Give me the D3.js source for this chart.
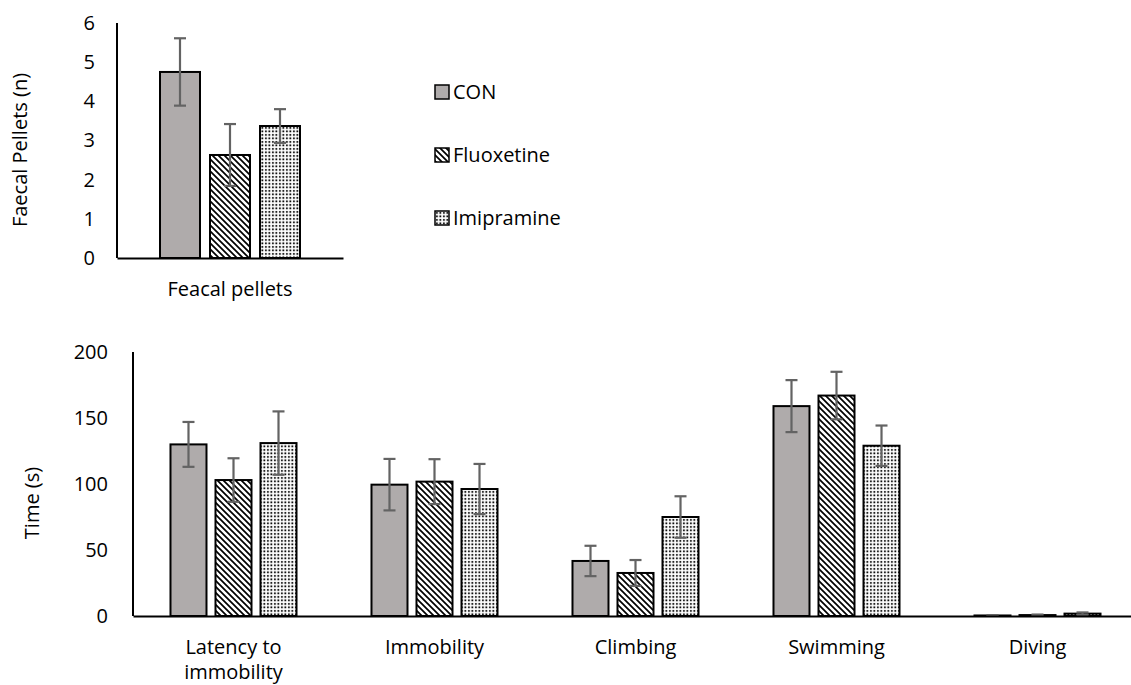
<!DOCTYPE html>
<html>
<head>
<meta charset="utf-8">
<script src="https://cdn.jsdelivr.net/npm/d3@7"></script>
<style>
  body { margin: 0; background: #fff; }
  svg { display: block; font-family: "Open Sans", sans-serif; }
  .axis path { stroke: #000; stroke-width: 2; }
  .axis text { fill: #000; font-size: 20px; font-family: "Open Sans", sans-serif; }
</style>
</head>
<body>
<svg id="chart" width="1131" height="685"></svg>
<script>
// series names
const groups = ["CON", "Fluoxetine", "Imipramine"];

// top chart: faecal pellets
const pelletCats = ["Feacal pellets"];
const pelletMeans = [[4.75, 2.63, 3.37]];
const pelletErrs = [[0.86, 0.79, 0.43]];
const pelletTicks = [0, 1, 2, 3, 4, 5, 6];

// bottom chart: forced swim behaviours
const behaviourCats = ["Latency to immobility", "Immobility", "Climbing", "Swimming", "Diving"];
const timeMeans = [
  [130, 103, 131],
  [99.5, 101.8, 96.2],
  [41.7, 32.6, 75],
  [159, 167, 129],
  [0.4, 0.7, 1.8]
];
const timeErrs = [
  [17, 16.5, 24],
  [19.5, 17, 19],
  [11.5, 9.8, 15.7],
  [19.7, 18, 15.3],
  [0.3, 0.4, 0.9]
];
const timeTicks = [0, 50, 100, 150, 200];

const svg = d3.select("#chart");
const defs = svg.append("defs");

// diagonal hatch for Fluoxetine
const hatch = defs.append("pattern")
    .attr("id", "hatch")
    .attr("patternUnits", "userSpaceOnUse")
    .attr("width", 6).attr("height", 6);
hatch.append("rect").attr("width", 6).attr("height", 6).attr("fill", "#fff");
hatch.append("path")
    .attr("d", "M-1,-1 L7,7 M-4,2 L2,8 M4,-2 L8,2")
    .attr("stroke", "#000").attr("stroke-width", 1.7);

// small dots for Imipramine
const dots = defs.append("pattern")
    .attr("id", "dots")
    .attr("patternUnits", "userSpaceOnUse")
    .attr("width", 3.5).attr("height", 3.5);
dots.append("rect").attr("width", 3.5).attr("height", 3.5).attr("fill", "#fff");
dots.append("rect").attr("x", 1).attr("y", 1).attr("width", 1.8).attr("height", 1.8).attr("fill", "#000");

const fills = d3.scaleOrdinal()
    .domain(groups)
    .range(["#afabab", "url(#hatch)", "url(#dots)"]);

function drawBars(cfg) {
    const x0 = d3.scaleBand()
        .domain(cfg.cats)
        .range(cfg.xRange)
        .padding(0);
    const x1 = d3.scaleBand()
        .domain(groups)
        .range([0, x0.bandwidth()])
        .paddingInner(0.2)
        .paddingOuter(cfg.outer);
    const y = d3.scaleLinear()
        .domain(cfg.yDomain)
        .range(cfg.yRange);

    const g = svg.append("g");

    const catG = g.selectAll(".cat")
        .data(cfg.cats)
        .enter().append("g")
        .attr("transform", d => `translate(${x0(d)},0)`);

    const rows = (d, i) => groups.map((s, j) => ({ s, v: cfg.means[i][j], e: cfg.errs[i][j] }));

    // bars
    catG.selectAll("rect")
        .data(rows)
        .enter().append("rect")
        .attr("x", d => x1(d.s))
        .attr("y", d => y(d.v))
        .attr("width", x1.bandwidth())
        .attr("height", d => y(0) - y(d.v))
        .attr("fill", d => fills(d.s))
        .attr("stroke", "#000")
        .attr("stroke-width", 2);

    // error bars
    const capW = 6;
    const cx = d => x1(d.s) + x1.bandwidth() / 2;
    const eb = catG.selectAll(".err")
        .data(rows)
        .enter().append("g")
        .attr("stroke", "#636363")
        .attr("stroke-width", 2.2);
    eb.append("line")
        .attr("x1", cx).attr("x2", cx)
        .attr("y1", d => y(d.v + d.e))
        .attr("y2", d => y(Math.max(0, d.v - d.e)));
    eb.append("line")
        .attr("x1", d => cx(d) - capW).attr("x2", d => cx(d) + capW)
        .attr("y1", d => y(d.v + d.e))
        .attr("y2", d => y(d.v + d.e));
    eb.append("line")
        .attr("x1", d => cx(d) - capW).attr("x2", d => cx(d) + capW)
        .attr("y1", d => y(Math.max(0, d.v - d.e)))
        .attr("y2", d => y(Math.max(0, d.v - d.e)));

    // y axis
    g.append("g")
        .attr("class", "axis")
        .attr("transform", `translate(${cfg.xRange[0]},0)`)
        .call(d3.axisLeft(y).tickValues(cfg.ticks).tickFormat(d3.format("d")).tickSize(0).tickPadding(cfg.tickPad))
        .call(a => a.select(".domain").attr("d", `M0,${cfg.yRange[1]}V${cfg.yRange[0]}`));

    // x axis
    const xa = g.append("g")
        .attr("class", "axis")
        .attr("transform", `translate(0,${cfg.yRange[0]})`)
        .call(d3.axisBottom(x0).tickSize(0).tickFormat(""));
    xa.selectAll(".tick text").remove();

    // category labels (wrapped like Excel)
    g.selectAll(".catlabel")
        .data(cfg.cats)
        .enter().append("text")
        .attr("x", d => x0(d) + x0.bandwidth() / 2)
        .attr("y", cfg.yRange[0] + cfg.labelDy)
        .attr("text-anchor", "middle")
        .attr("font-size", 20)
        .attr("fill", "#000")
        .each(function (d) {
            const lines = d === "Latency to immobility" ? ["Latency to", "immobility"] : [d];
            const t = d3.select(this);
            lines.forEach((ln, k) => {
                t.append("tspan")
                    .attr("x", x0(d) + x0.bandwidth() / 2)
                    .attr("dy", k === 0 ? 0 : 25)
                    .text(ln);
            });
        });

    // y title
    svg.append("text")
        .attr("transform", `translate(${cfg.titleX},${cfg.titleY}) rotate(-90)`)
        .attr("text-anchor", "middle")
        .attr("font-size", 20)
        .attr("fill", "#000")
        .text(cfg.title);
}

drawBars({
    cats: pelletCats,
    means: pelletMeans,
    errs: pelletErrs,
    ticks: pelletTicks,
    xRange: [117, 343],
    outer: 0.86,
    yDomain: [0, 6],
    yRange: [258, 23],
    tickPad: 22,
    labelDy: 38,
    title: "Faecal Pellets (n)",
    titleX: 27,
    titleY: 150
});

drawBars({
    cats: behaviourCats,
    means: timeMeans,
    errs: timeErrs,
    ticks: timeTicks,
    xRange: [133, 1138],
    outer: 0.833,
    yDomain: [0, 200],
    yRange: [616, 352],
    tickPad: 25,
    labelDy: 38,
    title: "Time (s)",
    titleX: 39,
    titleY: 503
});

// legend
const legend = svg.append("g").attr("transform", "translate(435,92)");
const li = legend.selectAll("g")
    .data(groups)
    .enter().append("g")
    .attr("transform", (d, i) => `translate(0,${i * 63})`);
li.append("rect")
    .attr("x", 0).attr("y", -7)
    .attr("width", 14).attr("height", 14)
    .attr("fill", d => fills(d))
    .attr("stroke", "#000")
    .attr("stroke-width", 1.5);
li.append("text")
    .attr("x", 18)
    .attr("y", 7)
    .attr("font-size", 20)
    .attr("fill", "#000")
    .text(d => d);
</script>
</body>
</html>
